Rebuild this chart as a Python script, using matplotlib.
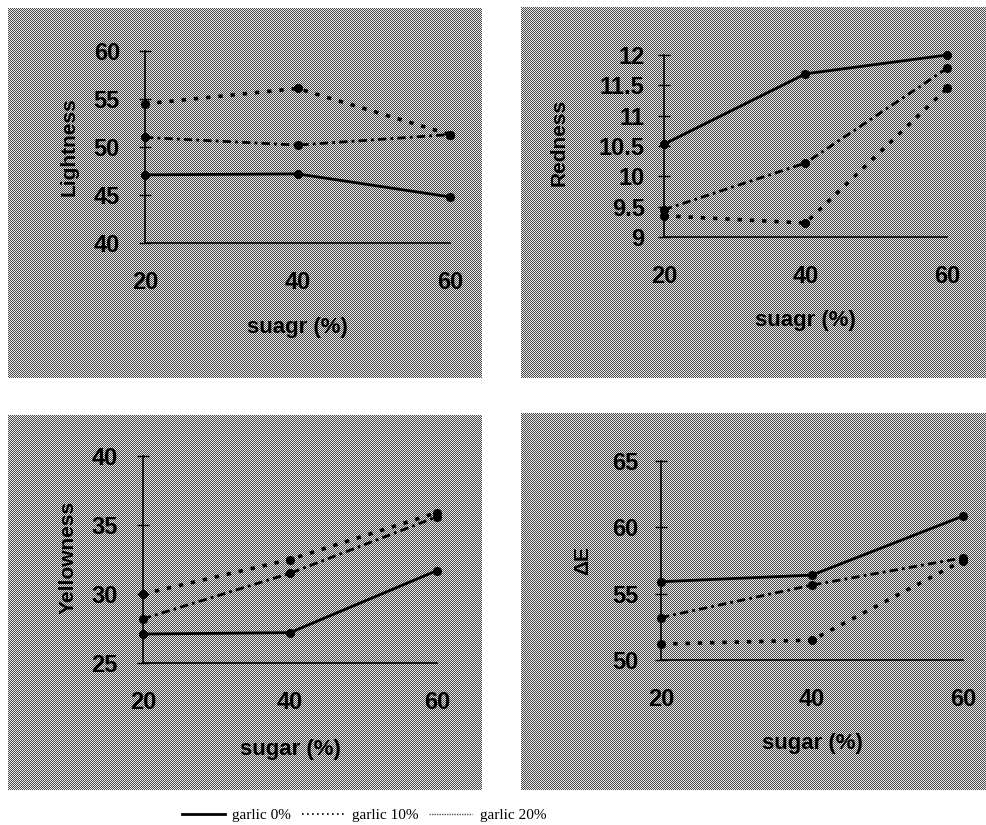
import matplotlib
matplotlib.use("Agg")
import matplotlib.pyplot as plt
import numpy as np
from matplotlib.lines import Line2D
from matplotlib.ticker import FormatStrFormatter

# =====================================================================
# Data
# =====================================================================
sugar = [20, 40, 60]
series_names = ["garlic 0%", "garlic 10%", "garlic 20%"]

lightness_g0 = [47.1, 47.2, 44.8]
lightness_g10 = [54.5, 56.1, 51.3]
lightness_g20 = [51.0, 50.2, 51.3]

redness_g0 = [10.53, 11.69, 12.0]
redness_g10 = [9.35, 9.23, 11.45]
redness_g20 = [9.45, 10.22, 11.78]

yellowness_g0 = [27.1, 27.2, 31.7]
yellowness_g10 = [30.0, 32.5, 35.9]
yellowness_g20 = [28.2, 31.5, 35.6]

dE_g0 = [55.9, 56.4, 60.85]
dE_g10 = [51.2, 51.5, 57.5]
dE_g20 = [53.2, 55.65, 57.7]

lightness_ticks = [40, 45, 50, 55, 60]
redness_ticks = [9, 9.5, 10, 10.5, 11, 11.5, 12]
yellowness_ticks = [25, 30, 35, 40]
dE_ticks = [50, 55, 60, 65]
x_ticks = [20, 40, 60]

W, H = 987, 825
STYLES = [
    dict(ls="-", lw=2.0),
    dict(ls=(0, (1.2, 2.2)), lw=2.6),
    dict(ls=(0, (3, 1.5, 1, 1.5)), lw=2.0),
]

fig = plt.figure(figsize=(W / 100, H / 100), dpi=100)
fig.patch.set_facecolor("white")


def px_rect(x0, y0, x1, y1):
    # pixel box (top-left origin) -> figure fraction
    return [x0 / W, 1 - y1 / H, (x1 - x0) / W, (y1 - y0) / H]


# halftone-like checker panels, pixel aligned, drawn under the axes
for (x0, y0, x1, y1) in [(8, 8, 482, 378), (521, 7, 987, 378),
                         (8, 415, 482, 790), (521, 413, 987, 790)]:
    w, h = x1 - x0, y1 - y0
    ii, jj = np.indices((h, w))
    tile = np.where((ii + jj) % 2 == 0, 0.30, 0.90)
    fig.figimage(tile, xo=x0, yo=H - y1, cmap="gray", vmin=0, vmax=1,
                 origin="upper", zorder=-10)

panels = [
    # axes pixel box, ys, yticks, ylabel, xlabel, label coords, ytick pad
    ((145, 51, 450, 243), [lightness_g0, lightness_g10, lightness_g20],
     lightness_ticks, "Lightness", "suagr (%)", (-0.25, 0.5), (0.5, -0.44), 14),
    ((664, 55, 947, 237), [redness_g0, redness_g10, redness_g20],
     redness_ticks, "Redness", "suagr (%)", (-0.37, 0.52), (0.5, -0.46), 10),
    ((143, 456, 437, 663), [yellowness_g0, yellowness_g10, yellowness_g20],
     yellowness_ticks, "Yellowness", "sugar (%)", (-0.255, 0.51), (0.5, -0.42), 14),
    ((661, 461, 963, 660), [dE_g0, dE_g10, dE_g20],
     dE_ticks, "ΔE", "sugar (%)", (-0.26, 0.5), (0.5, -0.42), 12),
]

FONT = "Liberation Sans"
for box, ys, yt, ylab, xlab, ylc, xlc, ypad in panels:
    ax = fig.add_axes(px_rect(*box))
    ax.set_facecolor("none")
    for y, st in zip(ys, STYLES):
        ax.plot(sugar, y, color="black", marker="o", ms=5.5, clip_on=False, **st)
    ax.set_xlim(20, 60)
    ax.set_ylim(yt[0], yt[-1])
    ax.set_xticks(x_ticks)
    ax.set_yticks(yt)
    ax.yaxis.set_major_formatter(FormatStrFormatter("%g"))
    for s in ["top", "right"]:
        ax.spines[s].set_visible(False)
    ax.spines["left"].set_linewidth(1.2)
    ax.spines["bottom"].set_linewidth(1.2)
    ax.tick_params(axis="y", direction="inout", length=8, width=1.0, pad=ypad)
    ax.tick_params(axis="x", length=0, pad=20)
    for lab in ax.get_xticklabels() + ax.get_yticklabels():
        lab.set_fontfamily(FONT)
        lab.set_fontweight("bold")
        lab.set_fontsize(17)
    ax.set_ylabel(ylab, fontsize=15, fontweight="bold", family=FONT)
    ax.set_xlabel(xlab, fontsize=16, fontweight="bold", family=FONT)
    ax.yaxis.set_label_coords(*ylc)
    ax.xaxis.set_label_coords(*xlc)
    ax.xaxis.label.set_va("center")
    ax.yaxis.label.set_va("center")

# legend at bottom
handles = [
    Line2D([], [], color="black", ls="-", lw=2.0),
    Line2D([], [], color="black", ls=(0, (1, 2)), lw=1.2),
    Line2D([], [], color="#555555", ls=(0, (1, 0.8)), lw=1.0),
]
fig.legend(handles, series_names, loc="center", bbox_to_anchor=(364 / W, 1 - 815 / H),
           ncol=3, frameon=False, handlelength=2.8, handletextpad=0.5, columnspacing=0.7,
           prop={"family": "Liberation Serif", "size": 11})

plt.savefig("out.png", dpi=100)
plt.close()
